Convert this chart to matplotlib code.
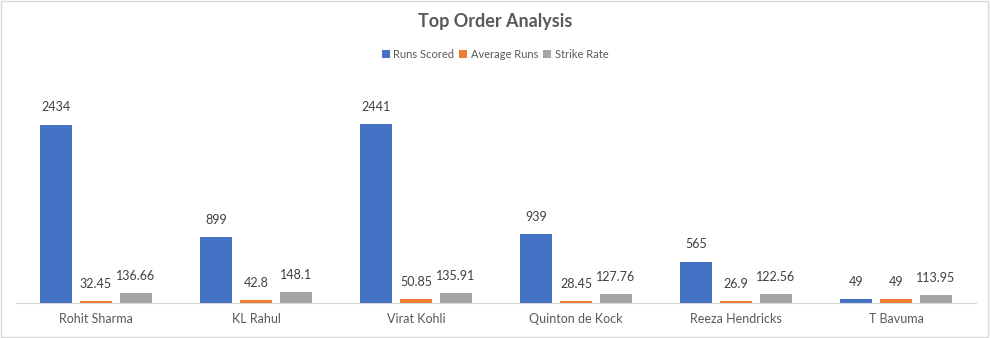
import matplotlib.pyplot as plt
import numpy as np
from matplotlib.patches import Rectangle

players = ["Rohit Sharma", "KL Rahul", "Virat Kohli", "Quinton de Kock", "Reeza Hendricks", "T Bavuma"]
runs = [2434, 899, 2441, 939, 565, 49]
avg = [32.45, 42.8, 50.85, 28.45, 26.9, 49]
sr = [136.66, 148.1, 135.91, 127.76, 122.56, 113.95]
avg_txt = ["32.45", "42.8", "50.85", "28.45", "26.9", "49"]
sr_txt = ["136.66", "148.1", "135.91", "127.76", "122.56", "113.95"]

plt.rcParams['font.family'] = ['Lato', 'DejaVu Sans']

fig = plt.figure(figsize=(9.9, 3.38), dpi=100)
ax = fig.add_axes([16/990, 35/338, 960/990, 220/338])

x = np.arange(len(players))
w = 0.2
b1 = ax.bar(x - 0.25, runs, w, color="#4472C4", label="Runs Scored")
b2 = ax.bar(x, avg, w, color="#ED7D31", label="Average Runs")
b3 = ax.bar(x + 0.25, sr, w, color="#A5A5A5", label="Strike Rate")

ax.bar_label(b1, padding=8, fontsize=9, color="#404040")
ax.bar_label(b2, labels=avg_txt, padding=8, fontsize=9, color="#404040")
ax.bar_label(b3, labels=sr_txt, padding=8, fontsize=9, color="#404040")

ax.set_xlim(-0.5, len(players) - 0.5)
ax.set_ylim(0, 3000)
ax.set_yticks([])
ax.set_xticks(x)
ax.set_xticklabels(players, fontsize=9, color="#595959")
ax.tick_params(axis='x', length=0, pad=7)
for s in ["top", "right", "left"]:
    ax.spines[s].set_visible(False)
ax.spines["bottom"].set_color("#D9D9D9")

fig.text(0.5, 1 - 22/338, "Top Order Analysis", ha="center", va="center",
         fontsize=13, fontweight="bold", color="#595959")
fig.legend(loc="center", bbox_to_anchor=(0.5, 1 - 54/338), ncol=3, frameon=False,
           fontsize=8, labelcolor="#595959", handlelength=0.7, handleheight=0.7,
           handletextpad=0.3, columnspacing=0.5)

fig.patches.append(Rectangle((0.001, 0.002), 0.997, 0.995, transform=fig.transFigure,
                             fill=False, edgecolor="#D9D9D9", linewidth=1))

fig.savefig("out.png", dpi=100)
